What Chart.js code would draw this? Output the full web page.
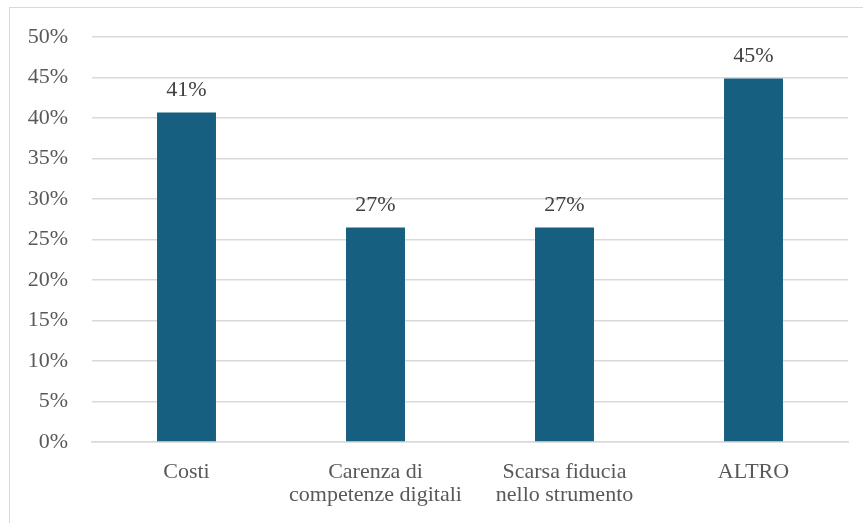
<!DOCTYPE html>
<html>
<head>
<meta charset="utf-8">
<script src="https://cdn.jsdelivr.net/npm/chart.js@4.4.1/dist/chart.umd.min.js"></script>
<style>
    body { margin: 0; background: #fff; }
    #wrap { position: relative; width: 863px; height: 523px; }
    #frame { position: absolute; left: 9px; top: 7px; width: 860px; height: 530px; border: 1px solid #d9d9d9; }
    canvas { position: absolute; left: 0; top: 0; }
</style>
</head>
<body>
<div id="wrap">
    <div id="frame"></div>
    <canvas id="grafico" width="863" height="523"></canvas>
</div>
<script>
const categorie = [['Costi'], ['Carenza di', 'competenze digitali'], ['Scarsa fiducia', 'nello strumento'], ['ALTRO']];
const percentuali = [40.7, 26.5, 26.5, 44.9];
const tickMax = 50;
const tickStep = 5;

const coloreBarre = '#175f80';
const fontTesto = { family: '"Liberation Serif", "Times New Roman", serif', size: 22 };

// etichette con la percentuale sopra ogni barra
const etichetteValori = {
    id: 'etichetteValori',
    afterDatasetsDraw(chart) {
        const ctx = chart.ctx;
        const meta = chart.getDatasetMeta(0);
        ctx.save();
        ctx.font = fontTesto.size + 'px ' + fontTesto.family;
        ctx.fillStyle = '#404040';
        ctx.textAlign = 'center';
        ctx.textBaseline = 'alphabetic';
        meta.data.forEach((bar, i) => {
            ctx.fillText(Math.round(percentuali[i]) + '%', bar.x, bar.y - 16);
        });
        ctx.restore();
    }
};

document.addEventListener('DOMContentLoaded', function() {
    const ctx = document.getElementById('grafico').getContext('2d');
    new Chart(ctx, {
        type: 'bar',
        data: {
            labels: categorie,
            datasets: [{
                data: percentuali,
                backgroundColor: coloreBarre,
                barPercentage: 0.312,
                categoryPercentage: 1
            }]
        },
        options: {
            responsive: false,
            animation: false,
            layout: { padding: { top: 37, right: 15, bottom: 0, left: 0 } },
            plugins: {
                legend: { display: false },
                tooltip: { enabled: false }
            },
            scales: {
                y: {
                    min: 0,
                    max: tickMax,
                    afterFit: scale => { scale.width = 92; },
                    ticks: {
                        stepSize: tickStep,
                        padding: 24,
                        color: '#595959',
                        font: fontTesto,
                        callback: v => v + '%'
                    },
                    grid: { color: '#d9d9d9', lineWidth: 1.5, drawTicks: false },
                    border: { display: false }
                },
                x: {
                    afterFit: scale => { scale.height = 81; },
                    ticks: {
                        padding: 19,
                        color: '#595959',
                        font: { family: fontTesto.family, size: 22, lineHeight: 1.05 },
                        maxRotation: 0
                    },
                    grid: { display: false, drawTicks: false },
                    border: { color: '#d9d9d9', width: 1.5 }
                }
            }
        },
        plugins: [etichetteValori]
    });
});
</script>
</body>
</html>
